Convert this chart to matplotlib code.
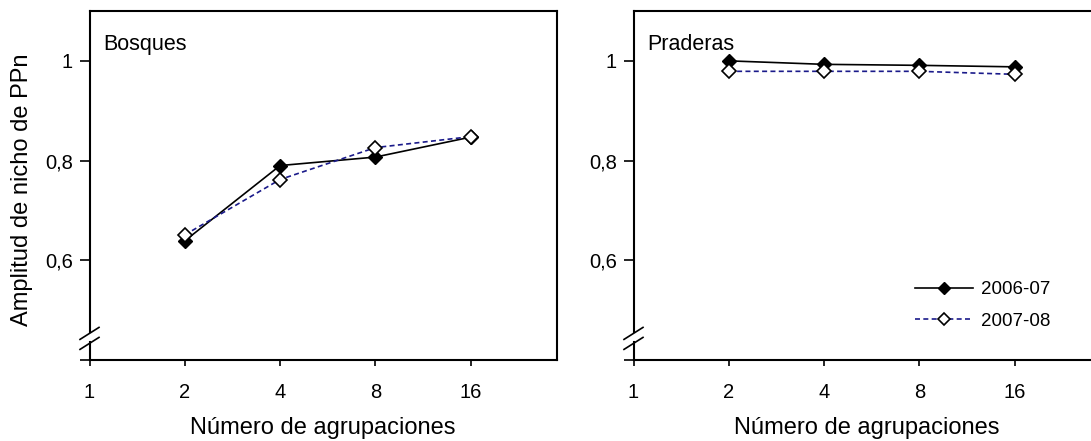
import matplotlib
matplotlib.use("Agg")
import matplotlib.pyplot as plt
from matplotlib.lines import Line2D
import numpy as np

plt.rcParams['font.family'] = ['Liberation Sans', 'DejaVu Sans']

groups = [2, 4, 8, 16]
xticks = [1, 2, 4, 8, 16]
xticklabels = ['1', '2', '4', '8', '16']
yticks = [0.4, 0.6, 0.8, 1.0]
yticklabels = ['', '0,6', '0,8', '1']

bosques_0607 = [0.639, 0.790, 0.807, 0.847]
bosques_0708 = [0.651, 0.762, 0.826, 0.848]
praderas_0607 = [1.000, 0.993, 0.991, 0.988]
praderas_0708 = [0.979, 0.979, 0.979, 0.973]

series_labels = ['2006-07', '2007-08']
panel_titles = ['Bosques', 'Praderas']

W, H = 1091, 441
fig = plt.figure(figsize=(W / 100, H / 100), dpi=100)

def px_axes(left, top, right, bottom):
    return fig.add_axes([left / W, 1 - bottom / H, (right - left) / W, (bottom - top) / H])

AW = 467.5
AH = 349
ax1 = px_axes(89.5, 11, 89.5 + AW, 360)
ax2 = px_axes(633.5, 11, 633.5 + AW, 360)

blue = '#1a1a8a'

def style(ax, title, d1, d2, ylabel=None, legend=False):
    ax.set_xscale('log', base=2)
    ax.set_xlim(1, 30)
    ax.set_ylim(0.4, 1.1)
    ax.plot(groups, d1, color='black', lw=1.2, marker='D', ms=7.5,
            mfc='black', mec='black', label=series_labels[0], zorder=3)
    ax.plot(groups, d2, color=blue, lw=1.2, ls=(0, (3, 2)), marker='D', ms=6.8,
            mfc='white', mec='black', mew=1.2, label=series_labels[1], zorder=4)
    ax.set_xticks(xticks)
    ax.set_xticklabels(xticklabels)
    ax.xaxis.set_minor_locator(matplotlib.ticker.NullLocator())
    ax.set_yticks(yticks)
    ax.set_yticklabels(yticklabels)
    ax.tick_params(axis='both', direction='out', labelsize=14.5, width=1.2, color='black')
    ax.tick_params(axis='x', length=4, pad=12.5)
    ax.tick_params(axis='y', length=7, pad=5)
    for s in ax.spines.values():
        s.set_linewidth(1.5)
    ax.spines['left'].set_visible(False)
    # left spine with axis break
    tr = ax.transAxes
    gap_lo = (360 - 342) / AH
    gap_hi = (360 - 332) / AH
    ax.add_line(Line2D([0, 0], [0, gap_lo], transform=tr, color='black', lw=1.5, clip_on=False))
    ax.add_line(Line2D([0, 0], [gap_hi, 1], transform=tr, color='black', lw=1.5, clip_on=False))
    dx = 9.5 / AW
    dy = 6 / AH
    for yc in [gap_lo - 0.004, gap_hi - 0.004]:
        ax.add_line(Line2D([-dx, dx], [yc - dy, yc + dy], transform=tr, color='black',
                           lw=1.2, clip_on=False))
    ax.text(14 / AW, 1 - 39 / AH, title, transform=tr,
            fontsize=15.5, va='baseline', ha='left')
    ax.set_xlabel('Número de agrupaciones', fontsize=17, labelpad=11)
    if ylabel:
        ax.set_ylabel(ylabel, fontsize=17)
        ax.yaxis.set_label_coords(-0.121, 0.487)
    if legend:
        ax.legend(loc='lower right', bbox_to_anchor=((1050 - 633.5) / AW, 30 / AH),
                  frameon=False, fontsize=13.5, handlelength=3.1, handletextpad=0.4,
                  labelspacing=0.78, borderaxespad=0, borderpad=0, markerscale=0.85)

style(ax1, panel_titles[0], bosques_0607, bosques_0708, ylabel='Amplitud de nicho de PPn')
style(ax2, panel_titles[1], praderas_0607, praderas_0708, legend=True)

fig.savefig('out.png', dpi=100)
